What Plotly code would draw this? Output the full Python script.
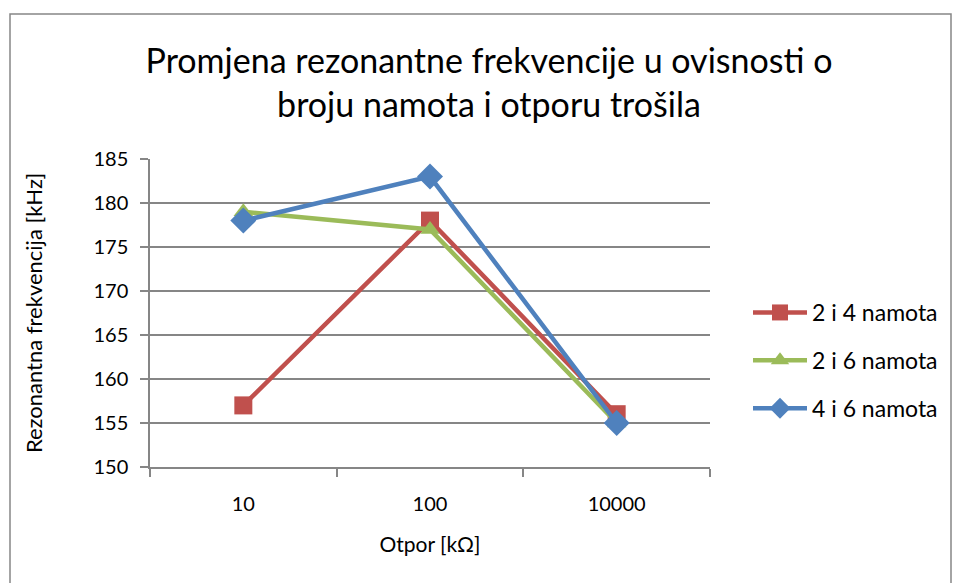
import plotly.graph_objects as go

categories = ["10", "100", "10000"]
series_names = ["2 i 4 namota", "2 i 6 namota", "4 i 6 namota"]
s24 = [157, 178, 156]
s26 = [179, 177, 155]
s46 = [178, 183, 155]
y_ticks = [150, 155, 160, 165, 170, 175, 180, 185]

colors = ["#C0504D", "#9BBB59", "#4F81BD"]
symbols = ["square", "triangle-up", "diamond"]
sizes = [18, 17, 20]

W, H = 955, 583
L, R, T, B = 150, 245, 159, 116

fig = go.Figure()
for name, vals, c, s, sz in zip(series_names, [s24, s26, s46], colors, symbols, sizes):
    fig.add_trace(go.Scatter(
        x=categories, y=vals, name=name, mode="lines+markers", legendgroup=name,
        line=dict(color=c, width=4.5),
        marker=dict(symbol=s, size=sz, color=c, line=dict(width=0)),
    ))

font = "Lato, 'Open Sans', sans-serif"
pw = W - L - R
ph = H - T - B

fig.update_layout(
    width=W, height=H,
    margin=dict(l=L, r=R, t=T, b=B),
    paper_bgcolor="white", plot_bgcolor="white",
    font=dict(family=font, size=20, color="#000000"),
    title=dict(
        text="Promjena rezonantne frekvencije u ovisnosti o<br>broju namota i otporu trošila",
        x=489 / W, xanchor="center", xref="container", y=1 - 73 / H, yanchor="middle",
        font=dict(size=34, family=font, color="#000000"),
    ),
    xaxis=dict(
        type="category", range=[-0.5, 2.5], tickson="boundaries",
        ticks="outside", ticklen=8, tickcolor="#868686", tickwidth=1.5,
        showline=True, linecolor="#868686", linewidth=1.5,
        showgrid=False, zeroline=False, ticklabelstandoff=18,
        title=dict(text="Otpor [kΩ]", font=dict(size=21), standoff=24),
        tickfont=dict(size=20),
    ),
    yaxis=dict(
        range=[150, 185], tickvals=y_ticks, ticks="outside", ticklen=8,
        tickcolor="#868686", tickwidth=1.5,
        showline=True, linecolor="#868686", linewidth=1.5,
        showgrid=True, gridcolor="#868686", gridwidth=1.5, zeroline=False,
        ticklabelstandoff=8,
        title=dict(text="Rezonantna frekvencija [kHz]", font=dict(size=22), standoff=45),
        tickfont=dict(size=20),
    ),
    legend=dict(
        x=(748 - L) / pw, y=1 - (291 - T) / ph, xanchor="left", yanchor="top",
        font=dict(size=23), tracegroupgap=15, traceorder="grouped", itemwidth=54,
        bgcolor="rgba(0,0,0,0)",
    ),
    showlegend=True,
)

# outer chart border
fig.add_shape(
    type="rect", xref="paper", yref="paper",
    x0=(10 - L) / pw, x1=(951 - L) / pw,
    y0=1 - (590 - T) / ph, y1=1 - (14 - T) / ph,
    line=dict(color="#868686", width=1.5), fillcolor="rgba(0,0,0,0)", layer="below",
)

fig.write_html(
    "out.html",
    config={"displayModeBar": False},
    post_script="document.body.style.margin='0px';document.body.style.overflow='hidden';",
)
